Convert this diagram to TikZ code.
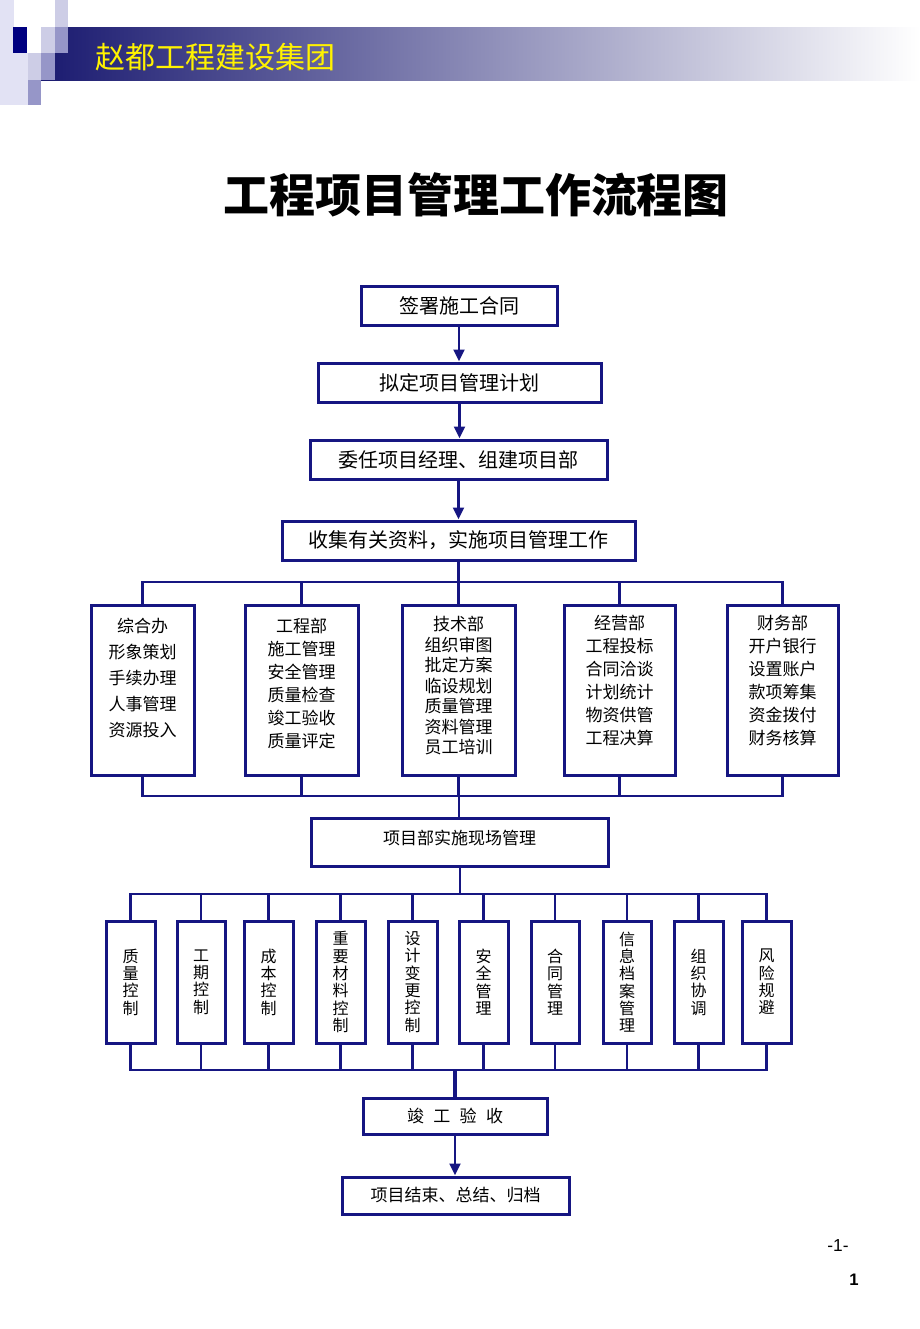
\documentclass[tikz,border=0pt]{standalone}
\usepackage{fontspec}
\setmainfont{Liberation Sans}
\newfontfamily\cjk{Noto Sans CJK SC}
\usetikzlibrary{arrows.meta,fit}
\definecolor{navy}{RGB}{22,22,130}
\definecolor{hdark}{RGB}{26,26,112}
\definecolor{hmid}{RGB}{160,160,195}
\definecolor{hlA}{RGB}{226,226,244}
\definecolor{hlB}{RGB}{205,205,230}
\definecolor{hmC}{RGB}{150,150,200}
\definecolor{sqnavy}{RGB}{0,0,128}
\begin{document}
\begin{tikzpicture}[x=0.75pt,y=-0.75pt,
  box/.style={draw=navy,line width=2.25pt,fill=white,inner sep=0pt,font=\cjk},
  conn/.style={draw=navy,line width=2.2pt},
  arr/.style={conn,-{Triangle[length=9pt,width=8pt]}},
  ctext/.style={inner sep=0pt,align=center},
  dlab/.style={anchor=north,inner sep=0pt,align=center}
]
\useasboundingbox (0,0) rectangle (920,1329);
% ---------- header ----------
\shade[left color=hdark, middle color=hmid, right color=white] (41,27) rectangle (920,80);
\fill[hlA] (0,0) rectangle (14,105);
\fill[hlA] (14,53) rectangle (28,105);
\fill[sqnavy] (13,27) rectangle (27,53);
\fill[hlB] (55,0) rectangle (68,27);
\fill[hmC] (55,27) rectangle (68,53);
\fill[hlB] (41,27) rectangle (55,53);
\fill[hlB] (28,53) rectangle (41,80);
\fill[hmC] (41,53) rectangle (55,80);
\fill[hmC] (28,80) rectangle (41,105);
\node[font=\cjk\fontsize{22.5}{27}\selectfont, text=yellow, anchor=west, inner sep=0pt] (hdr) at (95,57) {赵都工程建设集团};
% ---------- title ----------
\node[font=\cjk\bfseries\fontsize{34.5}{40}\selectfont, inner sep=0pt] (title) at (476,195) {工程项目管理工作流程图};
% ---------- top chain ----------
\node[box,fit={(361,286)(557,325)},label={[ctext,font=\cjk\fontsize{15}{18}\selectfont]center:签署施工合同}] (n1) {};
\node[box,fit={(318,363)(601,402)},label={[ctext,font=\cjk\fontsize{15}{18}\selectfont]center:拟定项目管理计划}] (n2) {};
\node[box,fit={(310,440)(607,479)},label={[ctext,font=\cjk\fontsize{15}{18}\selectfont]center:委任项目经理、组建项目部}] (n3) {};
\node[box,fit={(282,521)(635,560)},label={[ctext,font=\cjk\fontsize{15}{18}\selectfont]center:收集有关资料，实施项目管理工作}] (n4) {};
\draw[arr] (n1.south) -- (n1.south |- n2.north);
\draw[arr] (n2.south) -- (n2.south |- n3.north);
\draw[arr] (n3.south) -- (n3.south |- n4.north);
% ---------- departments ----------
\node[box,fit={(91,605)(194,775)},
  label={[dlab,font=\cjk\fontsize{12.75}{19.5}\selectfont,yshift=-10.7pt]north:{综合办\\形象策划\\手续办理\\人事管理\\资源投入}}] (d1) {};
\node[box,fit={(245,605)(358,775)},
  label={[dlab,font=\cjk\fontsize{12.75}{17.25}\selectfont,yshift=-10.7pt]north:{工程部\\施工管理\\安全管理\\质量检查\\竣工验收\\质量评定}}] (d2) {};
\node[box,fit={(402,605)(515,775)},
  label={[dlab,font=\cjk\fontsize{12.75}{15.4}\selectfont,yshift=-9.4pt]north:{技术部\\组织审图\\批定方案\\临设规划\\质量管理\\资料管理\\员工培训}}] (d3) {};
\node[box,fit={(564,605)(675,775)},
  label={[dlab,font=\cjk\fontsize{12.75}{17.25}\selectfont,yshift=-8.7pt]north:{经营部\\工程投标\\合同洽谈\\计划统计\\物资供管\\工程决算}}] (d4) {};
\node[box,fit={(727,605)(838,775)},
  label={[dlab,font=\cjk\fontsize{12.75}{17.25}\selectfont,yshift=-8.7pt]north:{财务部\\开户银行\\设置账户\\款项筹集\\资金拨付\\财务核算}}] (d5) {};
\coordinate (busA) at (459,582);
\coordinate (busB) at (459,796);
\draw[conn] (n4.south) -- (n4.south |- busA);
\draw[conn] (d1.north) -- (d1.north |- busA) -- (d5.north |- busA) -- (d5.north);
\foreach \d in {d2,d3,d4} \draw[conn] (\d.north) -- (\d.north |- busA);
\draw[conn] (d1.south) -- (d1.south |- busB) -- (d5.south |- busB) -- (d5.south);
\foreach \d in {d2,d3,d4} \draw[conn] (\d.south) -- (\d.south |- busB);
% ---------- site management ----------
\node[box,fit={(311,818)(608,866)},
  label={[dlab,font=\cjk\fontsize{12.75}{15}\selectfont,yshift=-9.8pt]north:{项目部实施现场管理}}] (pm) {};
\draw[conn] (busB) -- (busB |- pm.north);
% ---------- control boxes ----------
\tikzset{vlab/.style={label={[ctext,font=\cjk\fontsize{12}{13}\selectfont]center:{#1}}}}
\node[box,fit={(106,921)(155,1043)},vlab={质\\量\\控\\制}] (v1) {};
\node[box,fit={(177,921)(225,1043)},vlab={工\\期\\控\\制}] (v2) {};
\node[box,fit={(244,921)(293,1043)},vlab={成\\本\\控\\制}] (v3) {};
\node[box,fit={(316,921)(365,1043)},vlab={重\\要\\材\\料\\控\\制}] (v4) {};
\node[box,fit={(388,921)(437,1043)},vlab={设\\计\\变\\更\\控\\制}] (v5) {};
\node[box,fit={(459,921)(508,1043)},vlab={安\\全\\管\\理}] (v6) {};
\node[box,fit={(531,921)(579,1043)},vlab={合\\同\\管\\理}] (v7) {};
\node[box,fit={(603,921)(651,1043)},vlab={信\\息\\档\\案\\管\\理}] (v8) {};
\node[box,fit={(674,921)(723,1043)},vlab={组\\织\\协\\调}] (v9) {};
\node[box,fit={(742,921)(791,1043)},vlab={风\\险\\规\\避}] (v10) {};
\coordinate (busC) at (460,894);
\coordinate (busD) at (455,1070);
\draw[conn] (pm.south -| busC) -- (busC);
\draw[conn] (v1.north) -- (v1.north |- busC) -- (v10.north |- busC) -- (v10.north);
\foreach \v in {v2,v3,v4,v5,v6,v7,v8,v9} \draw[conn] (\v.north) -- (\v.north |- busC);
\draw[conn] (v1.south) -- (v1.south |- busD) -- (v10.south |- busD) -- (v10.south);
\foreach \v in {v2,v3,v4,v5,v6,v7,v8,v9} \draw[conn] (\v.south) -- (\v.south |- busD);
% ---------- completion ----------
\node[box,fit={(363,1098)(547,1134)},label={[ctext,font=\cjk\fontsize{12.75}{15}\selectfont]center:{竣\hspace{7pt}工\hspace{7pt}验\hspace{7pt}收}}] (ys) {};
\node[box,fit={(342,1177)(569,1214)},label={[ctext,font=\cjk\fontsize{12.75}{15}\selectfont]center:{项目结束、总结、归档}}] (end) {};
\draw[conn,line width=2.8pt] (busD) -- (busD |- ys.north);
\draw[arr] (ys.south) -- (ys.south |- end.north);
% ---------- page numbers ----------
\node[font=\fontsize{13}{15}\selectfont, inner sep=0pt] (pg1) at (838,1246) {-1-};
\node[font=\bfseries\fontsize{12.5}{14}\selectfont, inner sep=0pt] (pg2) at (854,1280) {1};
\end{tikzpicture}
\end{document}
